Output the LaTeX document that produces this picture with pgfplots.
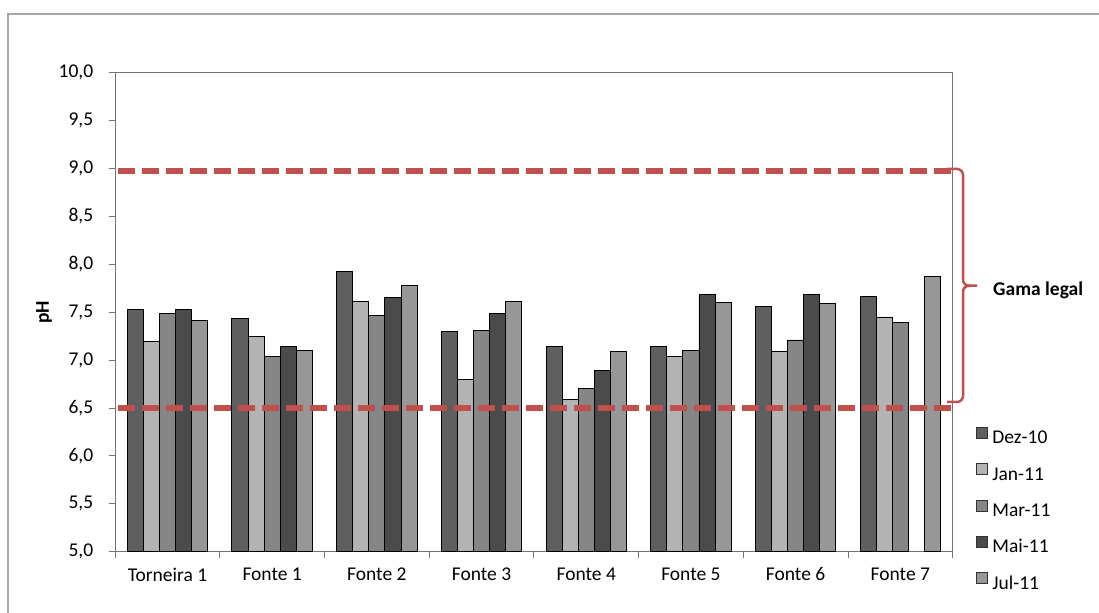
\documentclass[border=0pt]{standalone}
\usepackage{fontspec}
\setmainfont{Carlito}
\usepackage{pgfplots}
\pgfplotsset{compat=1.18}

\definecolor{cDez}{HTML}{5F5F5F}
\definecolor{cJan}{HTML}{B3B3B3}
\definecolor{cMar}{HTML}{868686}
\definecolor{cMai}{HTML}{4B4B4B}
\definecolor{cJul}{HTML}{979797}
\definecolor{legalred}{HTML}{C0504D}
\definecolor{frame}{HTML}{A6A6A6}

\newcommand{\chartfont}{\fontsize{19.5bp}{23bp}\selectfont}

\begin{document}
\begin{tikzpicture}[x=1bp,y=1bp]
% chart frame
\draw[frame, line width=1.3bp] (8,-30) rectangle (1130,599);

\begin{axis}[
  scale only axis,
  width=837.5bp, height=479bp,
  at={(110,64)}, anchor=south west,
  ybar=0pt, bar width=16.1bp,
  ymin=5, ymax=10,
  ytick={5,5.5,...,10},
  xmin=-0.5, xmax=7.5,
  xtick={-0.5,0.5,...,7.5},
  x tick label as interval,
  xticklabels={Torneira 1,Fonte 1,Fonte 2,Fonte 3,Fonte 4,Fonte 5,Fonte 6,Fonte 7},
  xtick pos=bottom, ytick pos=left,
  tick align=outside,
  major tick length=6.5bp,
  axis line style={draw=black!55, line width=0.9bp},
  every tick/.style={draw=black!55, line width=0.9bp},
  /pgf/number format/.cd, fixed, fixed zerofill, precision=1, use comma, assume math mode=true,
  /pgfplots/.cd,
  tick label style={font=\chartfont, text=black},
  yticklabel style={xshift=-12bp},
  xticklabel style={yshift=-6bp},
  ylabel={pH},
  every axis y label/.style={at={(axis description cs:-0.085,0.5)}, rotate=90, anchor=center,
    font=\chartfont\bfseries},
  legend style={font=\chartfont, draw=none, fill=none, inner sep=0pt, outer sep=0pt,
    at={(axis description cs:1.0280,0.0855)}, anchor=west,
    row sep=14bp, cells={anchor=west},
    nodes={inner sep=1.5bp, text height=13bp, text depth=4bp},
    /tikz/every odd column/.append style={column sep=3bp}},
  legend cell align=left,
  legend image code/.code={\draw[#1, draw=black!80, line width=0.8bp] (0bp,1bp) rectangle (11bp,12bp);},
  clip=true,
]
% Dez-10
\addplot[fill=cDez, draw=black, line width=0.9bp] coordinates
  {(0,7.53) (1,7.43) (2,7.92) (3,7.30) (4,7.14) (5,7.14) (6,7.56) (7,7.66)};
% Jan-11
\addplot[fill=cJan, draw=black, line width=0.9bp] coordinates
  {(0,7.19) (1,7.25) (2,7.61) (3,6.80) (4,6.59) (5,7.04) (6,7.09) (7,7.45)};
% Mar-11
\addplot[fill=cMar, draw=black, line width=0.9bp] coordinates
  {(0,7.49) (1,7.04) (2,7.47) (3,7.31) (4,6.70) (5,7.10) (6,7.21) (7,7.39)};
% Mai-11 (no reading for Fonte 7)
\addplot[fill=cMai, draw=black, line width=0.9bp] coordinates
  {(0,7.53) (1,7.14) (2,7.65) (3,7.49) (4,6.89) (5,7.68) (6,7.68)};
% Jul-11
\addplot[fill=cJul, draw=black, line width=0.9bp] coordinates
  {(0,7.41) (1,7.10) (2,7.78) (3,7.61) (4,7.09) (5,7.60) (6,7.59) (7,7.87)};
\legend{Dez-10,Jan-11,Mar-11,Mai-11,Jul-11}

% legal pH range limits
\addplot[sharp plot, forget plot, legalred, line width=6bp, dash pattern=on 17bp off 7bp]
  coordinates {(-0.47,8.97) (7.5,8.97)};
\addplot[sharp plot, forget plot, legalred, line width=6bp, dash pattern=on 17bp off 7bp]
  coordinates {(-0.47,6.5) (7.5,6.5)};
\end{axis}

% brace marking the legal range
\draw[legalred, line width=2.5bp, rounded corners=6bp]
  (947,444) -- (963,444) -- (963,327.3) -- (977,327.3);
\draw[legalred, line width=2.5bp, rounded corners=6bp]
  (970,327.3) -- (963,327.3) -- (963,211) -- (947,211);
\node[anchor=west, font=\chartfont\bfseries, inner sep=0pt] at (993,323) {Gama legal};

\pgfresetboundingbox
\useasboundingbox (0,0) rectangle (1099,613);
\end{tikzpicture}
\end{document}
